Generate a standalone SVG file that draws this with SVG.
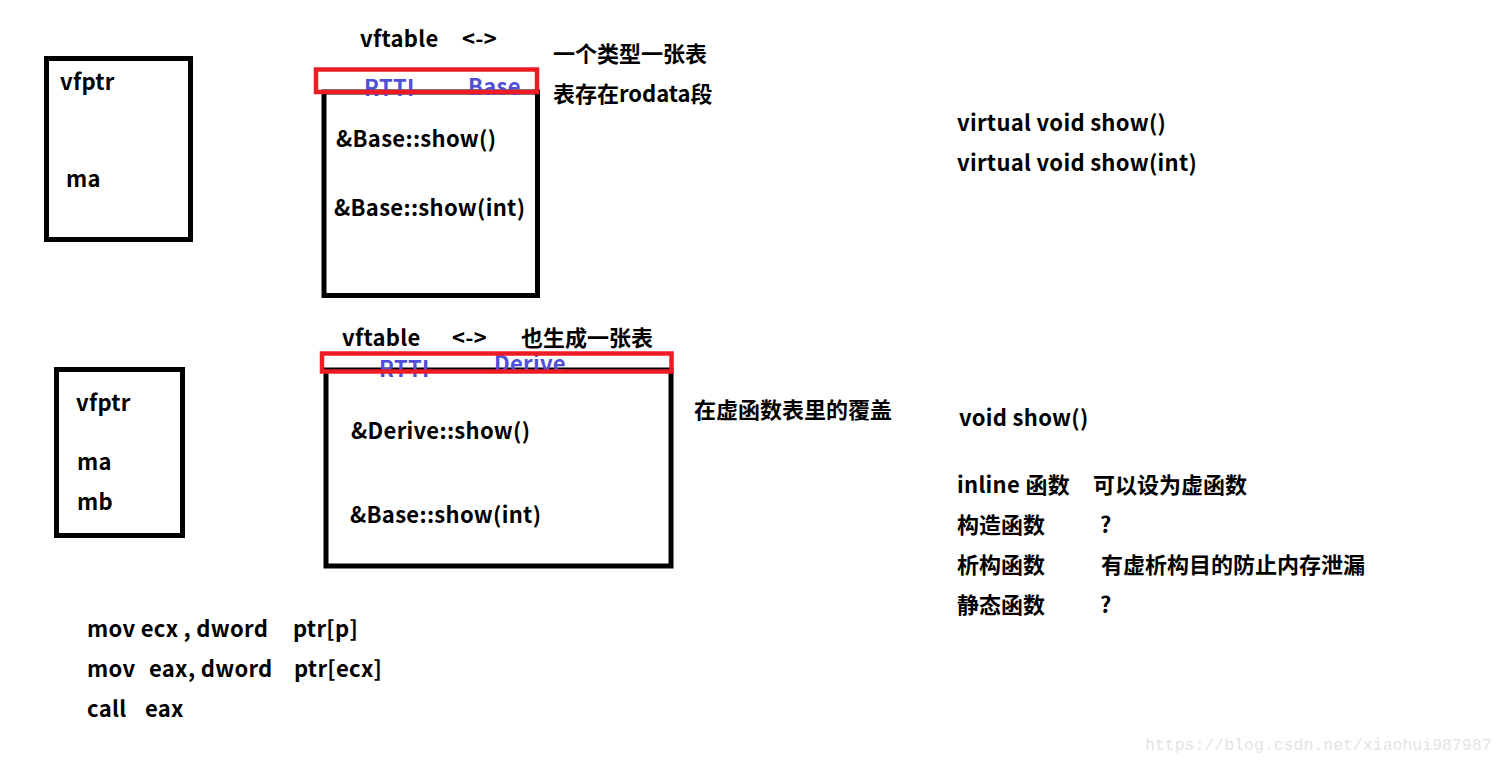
<svg xmlns="http://www.w3.org/2000/svg" width="1506" height="763" viewBox="0 0 1506 763">
<style>
.t{font-family:"Microsoft YaHei","Noto Sans CJK SC","Noto Sans",sans-serif;font-weight:bold;font-size:22px;letter-spacing:0.3px;fill:#000}
.c{letter-spacing:0}
.b{fill:#4f4fd9}
.box{fill:none;stroke:#000;stroke-width:5}
.red{fill:none;stroke:#ed1c24;stroke-width:4.5}
.wm{font-family:"Liberation Mono",monospace;font-size:16.5px;fill:#e4e4e4}
</style>
<rect width="1506" height="763" fill="#fff"/>
<g id="obj-base">
<rect class="box" x="46.5" y="58.5" width="144" height="181"/>
<text class="t" x="60" y="90">vfptr</text>
<text class="t" x="66" y="187">ma</text>
</g>
<g id="vftable-base">
<rect class="box" x="324" y="92" width="213.5" height="203.5"/>
<text class="t" x="360" y="47">vftable</text>
<text class="t" x="462" y="47">&lt;-&gt;</text>
<text class="t b" x="364" y="96">RTTI</text>
<text class="t b" x="468" y="95">Base</text>
<rect class="red" x="316" y="69.5" width="221" height="22.5"/>
<text class="t" x="336" y="147">&amp;Base::show()</text>
<text class="t" x="334" y="216">&amp;Base::show(int)</text>
<text class="t c" x="553" y="62">一个类型一张表</text>
<text class="t c" x="553" y="102">表存在rodata段</text>
</g>
<g id="obj-derive">
<rect class="box" x="56.5" y="369.5" width="126" height="166"/>
<text class="t" x="76" y="411">vfptr</text>
<text class="t" x="77" y="470">ma</text>
<text class="t" x="77" y="510">mb</text>
</g>
<g id="vftable-derive">
<rect class="box" x="326" y="370" width="345" height="196"/>
<text class="t" x="342" y="346">vftable</text>
<text class="t" x="452" y="346">&lt;-&gt;</text>
<text class="t c" x="521" y="346">也生成一张表</text>
<text class="t b" x="379" y="377">RTTI</text>
<text class="t b" x="494" y="372">Derive</text>
<rect class="red" x="322" y="353.5" width="349.5" height="18"/>
<text class="t" x="351" y="439">&amp;Derive::show()</text>
<text class="t" x="350" y="523">&amp;Base::show(int)</text>
<text class="t c" x="694" y="418">在虚函数表里的覆盖</text>
</g>
<g id="notes">
<text class="t" x="957" y="131">virtual void show()</text>
<text class="t" x="957" y="171">virtual void show(int)</text>
<text class="t" x="959" y="426">void show()</text>
<text class="t" x="957" y="493">inline 函数</text>
<text class="t c" x="1093" y="493">可以设为虚函数</text>
<text class="t c" x="957" y="533">构造函数</text>
<text class="t" x="1100" y="533">?</text>
<text class="t c" x="957" y="573">析构函数</text>
<text class="t c" x="1101" y="573">有虚析构目的防止内存泄漏</text>
<text class="t c" x="957" y="613">静态函数</text>
<text class="t" x="1100" y="613">?</text>
</g>
<g id="asm">
<text class="t" x="87" y="637">mov ecx , dword</text>
<text class="t" x="293" y="637">ptr[p]</text>
<text class="t" x="87" y="677">mov</text>
<text class="t" x="149" y="677">eax, dword</text>
<text class="t" x="294" y="677">ptr[ecx]</text>
<text class="t" x="87" y="717">call</text>
<text class="t" x="145" y="717">eax</text>
</g>
<g id="connectors"></g>
<text class="wm" x="1145" y="750">https://blog.csdn.net/xiaohui987987</text>
</svg>
